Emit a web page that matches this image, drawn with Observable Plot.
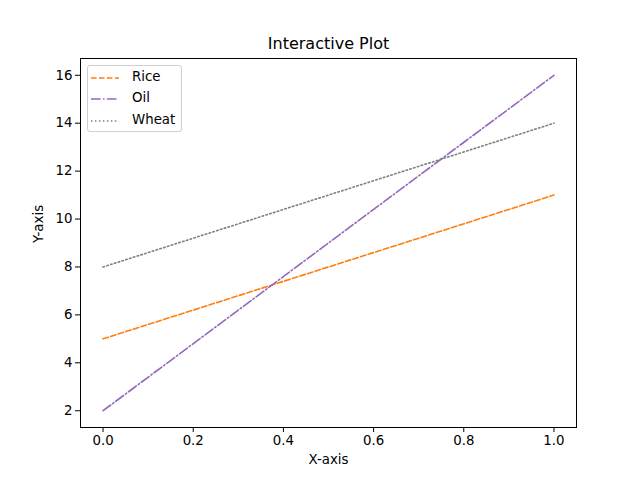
<!DOCTYPE html>
<html><head><meta charset="utf-8">
<script src="https://cdn.jsdelivr.net/npm/d3@7"></script>
<script src="https://cdn.jsdelivr.net/npm/@observablehq/plot@0.6"></script>
<style>
body{margin:0;background:#fff;font-family:"DejaVu Sans",sans-serif;}
#wrap{position:relative;width:640px;height:480px;}
#legend{position:absolute;left:87px;top:65px;width:95px;height:67px;border:1px solid #d0d0d0;border-radius:3px;background:rgba(255,255,255,0.8);box-sizing:border-box;}
#legend svg{position:absolute;left:3px;}
#legend span{position:absolute;left:44px;font-size:13.33px;white-space:nowrap;color:#000;}
</style></head>
<body><div id="wrap"><div id="chart"></div><div id="legend"></div></div>
<script>
const xValues = [0, 1];
const rice = [5, 11];
const oil = [2, 16];
const wheat = [8, 14];
const seriesNames = ["Rice", "Oil", "Wheat"];
const xTicks = [0, 0.2, 0.4, 0.6, 0.8, 1.0];
const yTicks = [2, 4, 6, 8, 10, 12, 14, 16];

const styles = {
  Rice: {stroke: "#ff7f0e", dash: "5.55,2.4"},
  Oil: {stroke: "#9467bd", dash: "9.6,2.4,1.5,2.4"},
  Wheat: {stroke: "#7f7f7f", dash: "1.5,2.475"}
};
const seriesVals = {Rice: rice, Oil: oil, Wheat: wheat};
const data = seriesNames.flatMap(s => xValues.map((x, i) => ({series: s, x, y: seriesVals[s][i]})));

const chart = Plot.plot({
  width: 640, height: 480,
  marginLeft: 80, marginRight: 64, marginTop: 58, marginBottom: 53,
  style: {fontFamily: "DejaVu Sans", fontSize: "13.33px", color: "#000", background: "#fff"},
  x: {domain: [-0.05, 1.05], ticks: xTicks, tickFormat: d3.format(".1f"), tickSize: 5, tickPadding: 3, label: null},
  y: {domain: [1.3, 16.7], ticks: yTicks, tickSize: 5, tickPadding: 3, label: null},
  marks: [
    ...seriesNames.map(s => Plot.line(data.filter(d => d.series === s), {x: "x", y: "y", stroke: styles[s].stroke, strokeWidth: 1.6, strokeDasharray: styles[s].dash})),
    Plot.frame({stroke: "#000", strokeWidth: 1}),
    Plot.text(["Interactive Plot"], {frameAnchor: "top", dy: -21, fontSize: 16, fill: "#000"}),
    Plot.text(["X-axis"], {frameAnchor: "bottom", dy: 36, fontSize: 13.33, fill: "#000"}),
    Plot.text(["Y-axis"], {frameAnchor: "left", dx: -42, rotate: -90, fontSize: 13.33, fill: "#000"})
  ]
});
document.getElementById("chart").appendChild(chart);

const legend = document.getElementById("legend");
seriesNames.forEach((s, i) => {
  const top = 11.5 + i * 21.5;
  const svgNS = "http://www.w3.org/2000/svg";
  const svg = document.createElementNS(svgNS, "svg");
  svg.setAttribute("width", "30"); svg.setAttribute("height", "4");
  svg.style.top = (top - 2) + "px";
  const ln = document.createElementNS(svgNS, "line");
  ln.setAttribute("x1", 0); ln.setAttribute("x2", 28); ln.setAttribute("y1", 2); ln.setAttribute("y2", 2);
  ln.setAttribute("stroke", styles[s].stroke); ln.setAttribute("stroke-width", 1.5);
  ln.setAttribute("stroke-dasharray", styles[s].dash);
  svg.appendChild(ln);
  legend.appendChild(svg);
  const sp = document.createElement("span");
  sp.textContent = s;
  sp.style.top = (top - 9) + "px";
  legend.appendChild(sp);
});
</script></body></html>
